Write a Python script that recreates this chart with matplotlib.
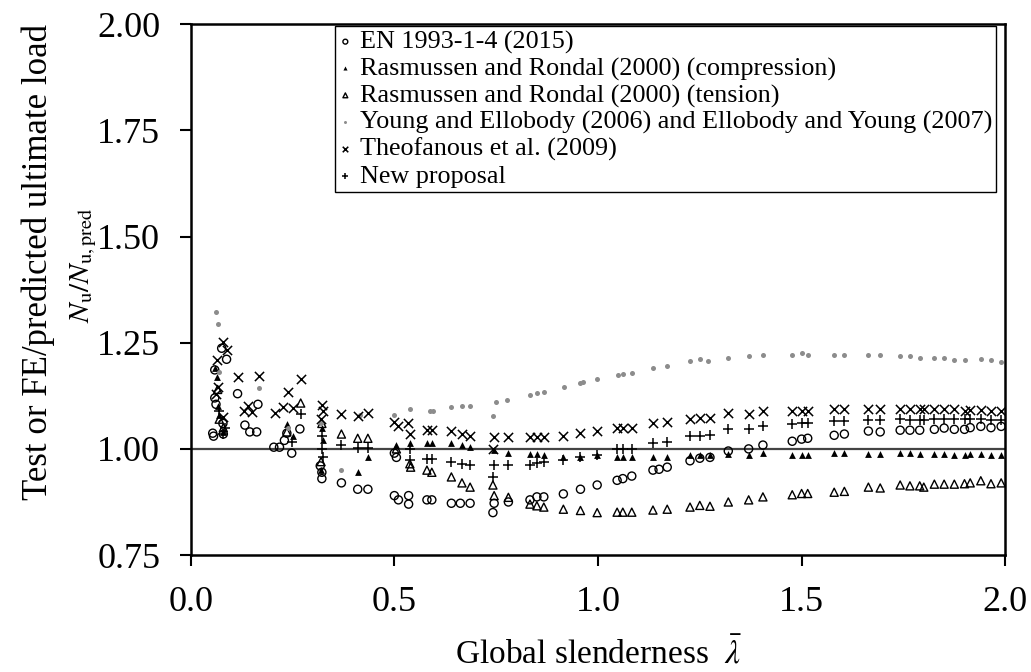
import matplotlib
matplotlib.use("Agg")
import matplotlib.pyplot as plt

plt.rcParams['font.family'] = ['Liberation Serif', 'DejaVu Serif']
plt.rcParams['mathtext.fontset'] = 'stix'

# EN 1993-1-4 (2015), open circles
en_x = [0.054, 0.059, 0.059, 0.062, 0.076, 0.088, 0.079, 0.080, 0.056,
        0.115, 0.165, 0.133, 0.145, 0.162,
        0.204, 0.218, 0.236, 0.248, 0.268, 0.230,
        0.318, 0.322, 0.322, 0.370, 0.410, 0.435,
        0.500, 0.505, 0.500, 0.510, 0.535, 0.535,
        0.580, 0.592, 0.640, 0.662, 0.686, 0.745, 0.780, 0.742,
        0.833, 0.850, 0.867, 0.915, 0.957, 0.998,
        1.047, 1.061, 1.083, 1.135, 1.150, 1.170, 1.226, 1.250, 1.275,
        1.320, 1.370, 1.405, 1.477, 1.500, 1.515, 1.580, 1.605, 1.664, 1.693,
        1.742, 1.766, 1.790, 1.826, 1.850, 1.875, 1.900,
        1.914, 1.940, 1.965, 1.990]
en_y = [1.037, 1.186, 1.120, 1.105, 1.237, 1.211, 1.060, 1.035, 1.030,
        1.130, 1.105, 1.056, 1.040, 1.040,
        1.004, 1.004, 1.037, 0.990, 1.047, 1.020,
        0.960, 0.945, 0.930, 0.920, 0.905, 0.905,
        0.990, 0.980, 0.890, 0.880, 0.890, 0.870,
        0.880, 0.880, 0.872, 0.872, 0.872, 0.872, 0.875, 0.850,
        0.880, 0.887, 0.887, 0.894, 0.905, 0.915,
        0.926, 0.930, 0.936, 0.950, 0.952, 0.957, 0.972, 0.978, 0.980,
        0.995, 1.000, 1.009, 1.018, 1.023, 1.025, 1.032, 1.035, 1.042, 1.040,
        1.044, 1.044, 1.044, 1.046, 1.049, 1.046, 1.046,
        1.050, 1.053, 1.050, 1.053]

# Rasmussen and Rondal (2000) compression, filled triangles
rc_x = [0.059, 0.064, 0.066, 0.070, 0.079,
        0.236, 0.250, 0.322, 0.325, 0.320, 0.435, 0.410,
        0.505, 0.538, 0.580, 0.592, 0.640, 0.666, 0.686, 0.745, 0.780,
        0.833, 0.850, 0.867, 0.915, 0.957, 0.998,
        1.047, 1.061, 1.083, 1.135, 1.170, 1.226, 1.250, 1.275,
        1.320, 1.370, 1.405, 1.477, 1.500, 1.515, 1.580, 1.605, 1.664, 1.693,
        1.742, 1.766, 1.790, 1.826, 1.850, 1.875, 1.900,
        1.914, 1.940, 1.965, 1.990]
rc_y = [1.190, 1.170, 1.100, 1.080, 1.040,
        1.058, 1.030, 1.050, 1.020, 0.950, 0.980, 0.945,
        1.010, 1.015, 1.014, 1.014, 1.014, 1.009, 1.004, 0.997, 0.990,
        0.988, 0.988, 0.986, 0.980, 0.980, 0.985,
        0.980, 0.980, 0.980, 0.980, 0.980, 0.985, 0.985, 0.985,
        0.988, 0.985, 0.990, 0.985, 0.985, 0.985, 0.990, 0.990, 0.988, 0.988,
        0.990, 0.990, 0.988, 0.987, 0.987, 0.986, 0.985,
        0.987, 0.987, 0.986, 0.985]

# Rasmussen and Rondal (2000) tension, open triangles
rt_x = [0.066, 0.070, 0.080, 0.270, 0.236, 0.322, 0.320, 0.370, 0.410, 0.435,
        0.505, 0.538, 0.540, 0.580, 0.592, 0.640, 0.666, 0.686,
        0.742, 0.745, 0.780, 0.833, 0.850, 0.867, 0.915, 0.957, 0.998,
        1.047, 1.061, 1.083, 1.135, 1.170, 1.226, 1.250, 1.275,
        1.320, 1.370, 1.405, 1.477, 1.500, 1.515, 1.580, 1.605, 1.664, 1.693,
        1.742, 1.766, 1.790, 1.800, 1.826, 1.850, 1.875, 1.900,
        1.914, 1.940, 1.965, 1.990]
rt_y = [1.140, 1.070, 1.050, 1.108, 1.040, 1.060, 0.970, 1.035, 1.025, 1.025,
        1.000, 0.965, 0.957, 0.950, 0.945, 0.934, 0.920, 0.910,
        0.915, 0.890, 0.886, 0.870, 0.866, 0.863, 0.858, 0.855, 0.850,
        0.851, 0.851, 0.851, 0.856, 0.858, 0.863, 0.867, 0.865,
        0.875, 0.880, 0.887, 0.892, 0.895, 0.895, 0.898, 0.900, 0.910, 0.908,
        0.915, 0.913, 0.913, 0.910, 0.917, 0.917, 0.917, 0.918,
        0.920, 0.925, 0.918, 0.920]

# Young and Ellobody (2006) and Ellobody and Young (2007), grey dots
ye_x = [0.062, 0.066, 0.070, 0.167, 0.240, 0.320, 0.370, 0.415, 0.500, 0.538,
        0.587, 0.595, 0.640, 0.666, 0.686, 0.742, 0.750, 0.776,
        0.833, 0.850, 0.867, 0.916, 0.956, 0.963, 0.998,
        1.049, 1.061, 1.083, 1.135, 1.170, 1.226, 1.250, 1.270,
        1.320, 1.370, 1.405, 1.477, 1.500, 1.515, 1.580, 1.605, 1.664, 1.693,
        1.742, 1.766, 1.790, 1.826, 1.850, 1.875, 1.900, 1.940, 1.965, 1.990]
ye_y = [1.322, 1.294, 1.180, 1.143, 1.050, 1.060, 0.950, 1.080, 1.080, 1.094,
        1.089, 1.090, 1.098, 1.100, 1.100, 1.077, 1.110, 1.115,
        1.127, 1.131, 1.134, 1.145, 1.155, 1.157, 1.164,
        1.174, 1.176, 1.178, 1.190, 1.195, 1.207, 1.211, 1.207,
        1.215, 1.218, 1.220, 1.222, 1.225, 1.222, 1.222, 1.220, 1.222, 1.220,
        1.218, 1.218, 1.215, 1.215, 1.215, 1.210, 1.210, 1.212, 1.210, 1.205]

# Theofanous et al. (2009), crosses
th_x = [0.079, 0.088, 0.064, 0.066, 0.062, 0.079,
        0.115, 0.167, 0.140, 0.150, 0.130,
        0.206, 0.238, 0.226, 0.250, 0.270,
        0.322, 0.325, 0.320, 0.370, 0.410, 0.435,
        0.500, 0.510, 0.533, 0.538, 0.580, 0.592, 0.640, 0.666, 0.686,
        0.745, 0.780, 0.742, 0.833, 0.850, 0.867, 0.915, 0.957, 0.998,
        1.047, 1.061, 1.083, 1.135, 1.170, 1.226, 1.250, 1.275,
        1.320, 1.370, 1.405, 1.477, 1.500, 1.515, 1.580, 1.605, 1.664, 1.693,
        1.742, 1.766, 1.790, 1.800, 1.826, 1.850, 1.875, 1.900,
        1.914, 1.940, 1.965, 1.990]
th_y = [1.251, 1.233, 1.210, 1.146, 1.130, 1.075,
        1.170, 1.171, 1.100, 1.087, 1.090,
        1.084, 1.134, 1.098, 1.096, 1.164,
        1.103, 1.090, 1.070, 1.082, 1.077, 1.084,
        1.063, 1.054, 1.060, 1.035, 1.044, 1.044, 1.042, 1.035, 1.030,
        1.028, 1.028, 1.000, 1.028, 1.028, 1.028, 1.030, 1.037, 1.042,
        1.050, 1.050, 1.050, 1.061, 1.063, 1.070, 1.072, 1.072,
        1.084, 1.082, 1.089, 1.090, 1.090, 1.090, 1.093, 1.093, 1.094, 1.094,
        1.095, 1.095, 1.095, 1.093, 1.093, 1.093, 1.093, 1.090,
        1.092, 1.092, 1.090, 1.090]

# New proposal, plus signs
np_x = [0.070, 0.080, 0.085, 0.270, 0.248, 0.322, 0.322, 0.325, 0.370,
        0.410, 0.435, 0.538, 0.538, 0.580, 0.592, 0.640, 0.666, 0.686,
        0.745, 0.780, 0.742, 0.833, 0.850, 0.867, 0.915, 0.957, 0.998,
        1.047, 1.061, 1.083, 1.135, 1.170, 1.226, 1.250, 1.275,
        1.320, 1.370, 1.405, 1.477, 1.500, 1.515, 1.580, 1.605, 1.664, 1.693,
        1.742, 1.766, 1.790, 1.800, 1.826, 1.850, 1.875, 1.900,
        1.914, 1.940, 1.965, 1.990]
np_y = [1.090, 1.035, 1.050, 1.082, 1.016, 1.030, 1.000, 0.980, 1.010,
        1.002, 1.002, 1.000, 0.975, 0.976, 0.976, 0.969, 0.964, 0.962,
        0.962, 0.962, 0.935, 0.962, 0.967, 0.969, 0.973, 0.980, 0.985,
        1.000, 1.000, 1.000, 1.014, 1.016, 1.030, 1.030, 1.032,
        1.047, 1.047, 1.054, 1.058, 1.060, 1.060, 1.065, 1.065, 1.067, 1.067,
        1.070, 1.069, 1.068, 1.068, 1.070, 1.070, 1.070, 1.070,
        1.070, 1.070, 1.068, 1.068]

labels = ['EN 1993-1-4 (2015)',
          'Rasmussen and Rondal (2000) (compression)',
          'Rasmussen and Rondal (2000) (tension)',
          'Young and Ellobody (2006) and Ellobody and Young (2007)',
          'Theofanous et al. (2009)',
          'New proposal']

x_ticks = [0.0, 0.5, 1.0, 1.5, 2.0]
y_ticks = [0.75, 1.00, 1.25, 1.50, 1.75, 2.00]

fig = plt.figure(figsize=(10.31, 6.72), dpi=100)
ax = fig.add_axes([0.185, 0.174, 0.79, 0.79])

ax.axhline(1.0, color='#444444', lw=1.6, zorder=1)

ax.scatter(en_x, en_y, s=34, marker='o', facecolors='none', edgecolors='black',
           linewidths=1.0, label=labels[0], zorder=3)
ax.scatter(rc_x, rc_y, s=24, marker='^', color='black', linewidths=0,
           label=labels[1], zorder=3)
ax.scatter(rt_x, rt_y, s=34, marker='^', facecolors='none', edgecolors='black',
           linewidths=1.0, label=labels[2], zorder=3)
ax.scatter(ye_x, ye_y, s=13, marker='o', color='#8c8c8c', linewidths=0,
           label=labels[3], zorder=3)
ax.scatter(th_x, th_y, s=44, marker='x', color='black', linewidths=1.1,
           label=labels[4], zorder=3)
ax.scatter(np_x, np_y, s=44, marker='+', color='black', linewidths=1.1,
           label=labels[5], zorder=3)

ax.set_xlim(0.0, 2.0)
ax.set_ylim(0.75, 2.0)
ax.set_xticks(x_ticks)
ax.set_xticklabels([f'{t:.1f}' for t in x_ticks])
ax.set_yticks(y_ticks)
ax.set_yticklabels([f'{t:.2f}' for t in y_ticks])
ax.tick_params(direction='out', length=8, width=1.5, labelsize=26, pad=14)
for sp in ax.spines.values():
    sp.set_linewidth(1.8)

leg = ax.legend(loc='upper left', bbox_to_anchor=(0.177, 0.996), fontsize=18.8,
                frameon=True, fancybox=False, edgecolor='black', framealpha=1,
                handlelength=0.5, handletextpad=0.3, labelspacing=0.12,
                borderpad=0.15, borderaxespad=0, markerscale=0.6)
leg.get_frame().set_linewidth(1.0)

fig.text(0.037, 0.61, 'Test or FE/predicted ultimate load', rotation=90,
         ha='center', va='center', fontsize=25)
fig.text(0.081, 0.605, r'$N_\mathrm{u}/N_\mathrm{u,pred}$', rotation=90,
         ha='center', va='center', fontsize=21)
fig.text(0.58, 0.027, r'Global slenderness  $\bar{\lambda}$', ha='center',
         va='center', fontsize=24)

fig.savefig('out.png', dpi=100)
